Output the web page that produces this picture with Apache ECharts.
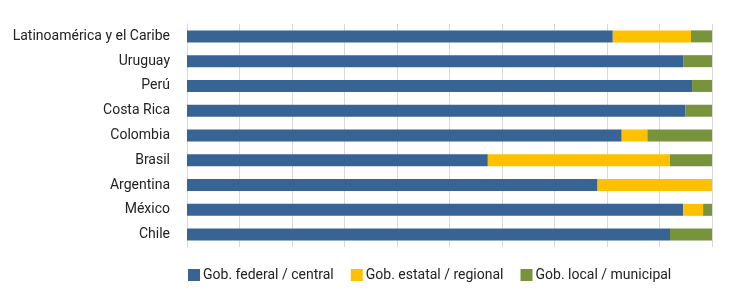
<!DOCTYPE html>
<html>
<head>
<meta charset="utf-8">
<script src="https://cdn.jsdelivr.net/npm/echarts@6/dist/echarts.min.js"></script>
<style>
html,body{margin:0;padding:0;background:#fff;}
#main{width:742px;height:303px;}
</style>
</head>
<body>
<div id="main"></div>
<script>
// categories, top to bottom in the picture
var paises = ['Latinoamérica y el Caribe', 'Uruguay', 'Perú', 'Costa Rica', 'Colombia', 'Brasil', 'Argentina', 'México', 'Chile'];
// shares in %
var federal = [81.1, 94.6, 96.2, 94.9, 82.8, 57.3, 78.2, 94.5, 92.0];
var estatal = [14.9, 0, 0, 0, 4.9, 34.7, 21.8, 3.8, 0];
var local = [4.0, 5.4, 3.8, 5.1, 12.3, 8.0, 0, 1.7, 8.0];

var mychart = echarts.init(document.getElementById('main'));
var fuente = 'Roboto';
function serie(nombre, datos, color) {
    return {
        name: nombre,
        type: 'bar',
        stack: 'total',
        barWidth: 12,
        data: datos,
        itemStyle: {color: color},
        emphasis: {disabled: true}
    };
}
var option = {
    animation: false,
    textStyle: {fontFamily: fuente},
    grid: {left: 187, right: 30, top: 24, height: 223},
    legend: {
        left: 188,
        top: 268,
        padding: 0,
        itemWidth: 12,
        itemHeight: 12,
        itemGap: 17,
        icon: 'rect',
        textStyle: {fontFamily: fuente, fontSize: 14, color: '#222', padding: [0, 0, 0, -2]},
        data: ['Gob. federal / central', 'Gob. estatal / regional', 'Gob. local / municipal']
    },
    xAxis: {
        type: 'value',
        min: 0,
        max: 100,
        interval: 10,
        axisLabel: {show: false},
        axisLine: {show: false},
        axisTick: {show: false},
        splitLine: {lineStyle: {color: '#d9d9d9', width: 1}}
    },
    yAxis: {
        type: 'category',
        inverse: true,
        data: paises,
        axisTick: {show: false},
        axisLine: {show: true, lineStyle: {color: '#d9d9d9'}},
        axisLabel: {fontFamily: fuente, fontSize: 14, color: '#222', margin: 17}
    },
    series: [
        serie('Gob. federal / central', federal, '#386395'),
        serie('Gob. estatal / regional', estatal, '#ffc000'),
        serie('Gob. local / municipal', local, '#77933c')
    ]
};
mychart.setOption(option);
</script>
</body>
</html>
